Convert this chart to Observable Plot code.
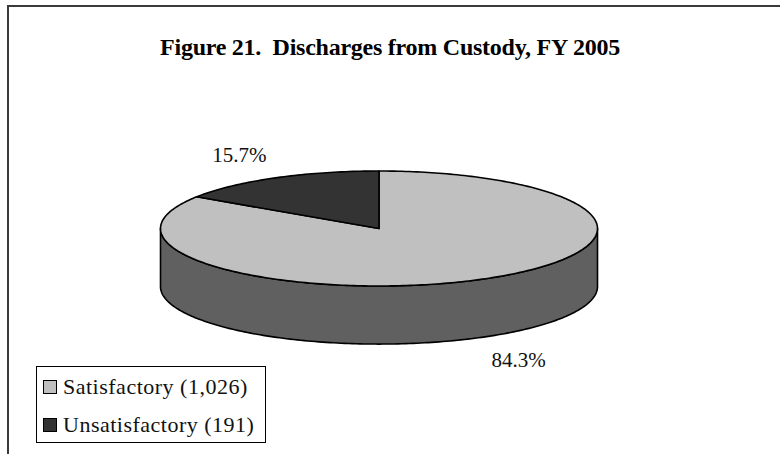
<!DOCTYPE html>
<html>
<head>
<meta charset="utf-8">
<script src="https://cdn.jsdelivr.net/npm/d3@7"></script>
<script src="https://cdn.jsdelivr.net/npm/@observablehq/plot@0.6"></script>
<style>
  html, body { margin: 0; padding: 0; background: #fff; }
  #wrap { position: relative; width: 780px; height: 454px; overflow: hidden; font-family: "Liberation Serif", "Times New Roman", serif; }
  #frame { position: absolute; left: 7px; top: 5px; width: 900px; height: 600px; border-top: 2px solid #3a3a3a; border-left: 2px solid #3a3a3a; }
  #title { position: absolute; left: 0; top: 0; width: 780px; height: 80px; text-align: center; line-height: 94px; font-weight: bold; font-size: 24px; color: #000; letter-spacing: -0.25px; }
  #chart { position: absolute; left: 0; top: 80px; }
  #legend { position: absolute; left: 36px; top: 366px; width: 230px; height: 77px; border: 1px solid #000; background: #fff; box-sizing: border-box; font-size: 22px; letter-spacing: 0.5px; color: #111; }
  .item { position: absolute; left: 6px; height: 24px; display: flex; align-items: center; white-space: nowrap; }
  .sw { width: 12px; height: 12px; border: 1.5px solid #000; margin-right: 6px; flex: none; }
</style>
</head>
<body>
<div id="wrap">
  <div id="frame"></div>
  <div id="title">Figure 21.&nbsp; Discharges from Custody, FY 2005</div>
  <div id="chart"></div>
  <div id="legend"></div>
</div>
<script>
// ---- data ----
const categories = ["Satisfactory", "Unsatisfactory"];
const counts = [1026, 191];
const percentLabels = ["84.3%", "15.7%"];
const legendLabels = ["Satisfactory (1,026)", "Unsatisfactory (191)"];
const topColors = ["#c0c0c0", "#333333"];
const sideColor = "#606060";

// ---- geometry (unit ellipse; tilt handled by scales) ----
const depth = 1.01;
const step = Math.PI / 180;
const arcs = d3.pie().sort(null)(counts);

function arcPoints(a0, a1, dz) {
  const pts = [];
  const n = Math.max(2, Math.ceil(Math.abs(a1 - a0) / step));
  for (let i = 0; i <= n; i++) {
    const a = a0 + (a1 - a0) * i / n;
    pts.push({x: Math.sin(a), y: Math.cos(a) - dz});
  }
  return pts;
}

const topFaces = [];
const sideFaces = [];
const labels = [];
arcs.forEach((arc, i) => {
  const name = categories[i];
  const poly = [{x: 0, y: 0}, ...arcPoints(arc.startAngle, arc.endAngle, 0), {x: 0, y: 0}];
  poly.forEach(p => topFaces.push({...p, name}));
  const s0 = Math.max(arc.startAngle, Math.PI / 2);
  const s1 = Math.min(arc.endAngle, 3 * Math.PI / 2);
  if (s0 < s1) {
    const side = [...arcPoints(s0, s1, 0), ...arcPoints(s1, s0, depth)];
    side.push(side[0]);
    side.forEach(p => sideFaces.push({...p, name}));
  }
  const mid = (arc.startAngle + arc.endAngle) / 2;
  const c = Math.cos(mid);
  labels.push({
    x: 1.35 * Math.sin(mid),
    y: 1.45 * c - (c < 0 ? depth : 0),
    text: percentLabels[i]
  });
});

const chart = Plot.plot({
  width: 780,
  height: 374,
  margin: 0,
  style: {fontFamily: "'Liberation Serif', 'Times New Roman', serif", background: "transparent"},
  x: {domain: [-1, 1], range: [160, 597], axis: null},
  y: {domain: [-1, 1], range: [205.5, 90.5], axis: null},
  color: {domain: categories, range: topColors},
  marks: [
    Plot.line(sideFaces, {x: "x", y: "y", z: "name", fill: sideColor, stroke: "#000", strokeWidth: 1.6, strokeLinejoin: "round"}),
    Plot.line(topFaces, {x: "x", y: "y", z: "name", fill: "name", stroke: "#000", strokeWidth: 1.6, strokeLinejoin: "round"}),
    Plot.text(labels, {x: "x", y: "y", text: "text", fontSize: 21, fontFamily: "'Liberation Serif', serif", fill: "#111", style: "letter-spacing: 0.5px"})
  ]
});
document.getElementById("chart").appendChild(chart);

// legend
const legend = document.getElementById("legend");
legendLabels.forEach((lab, i) => {
  const item = document.createElement("div");
  item.className = "item";
  item.style.top = (i === 0 ? 8 : 46) + "px";
  const sw = document.createElement("div");
  sw.className = "sw";
  sw.style.background = topColors[i];
  const t = document.createElement("span");
  t.textContent = lab;
  item.appendChild(sw);
  item.appendChild(t);
  legend.appendChild(item);
});
</script>
</body>
</html>
